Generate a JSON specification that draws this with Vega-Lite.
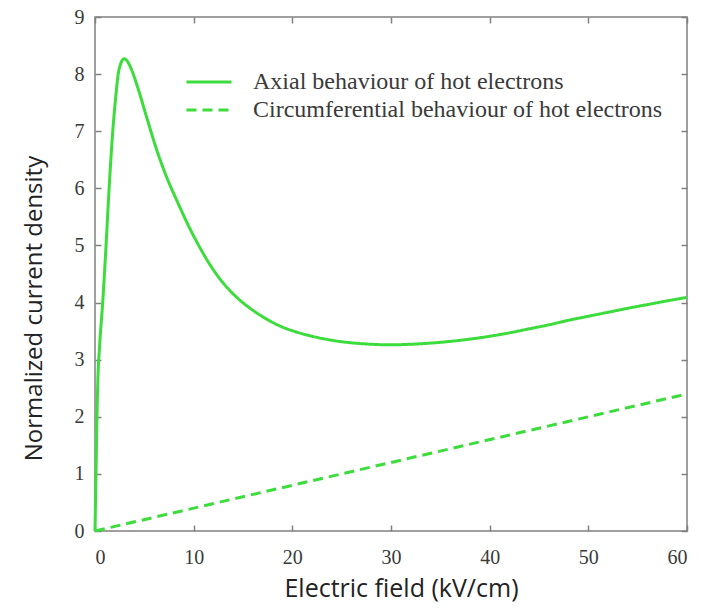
{
  "$schema": "https://vega.github.io/schema/vega-lite/v6.json",
  "autosize": "none",
  "width": 592,
  "height": 514,
  "padding": {"left": 95, "top": 17, "right": 20, "bottom": 77},
  "background": "white",
  "config": {
    "view": {"stroke": "#808080", "strokeWidth": 1.5},
    "axis": {
      "domain": false,
      "grid": false,
      "tickColor": "#808080",
      "tickSize": -6,
      "tickWidth": 1.5,
      "labelFont": "Liberation Serif",
      "labelFontSize": 20,
      "labelColor": "#3a3a3a",
      "titleFont": "Open Sans",
      "titleFontSize": 25,
      "titleFontWeight": "normal",
      "titleColor": "#222222"
    }
  },
  "data": {
    "values": [
      {"E": 0, "J": 0, "s": "Axial behaviour of hot electrons"},
      {"E": 0.1, "J": 1.0, "s": "Axial behaviour of hot electrons"},
      {"E": 0.2, "J": 2.0, "s": "Axial behaviour of hot electrons"},
      {"E": 0.3, "J": 2.7, "s": "Axial behaviour of hot electrons"},
      {"E": 0.45, "J": 3.2, "s": "Axial behaviour of hot electrons"},
      {"E": 0.78, "J": 4.0, "s": "Axial behaviour of hot electrons"},
      {"E": 1.12, "J": 5.0, "s": "Axial behaviour of hot electrons"},
      {"E": 1.43, "J": 6.0, "s": "Axial behaviour of hot electrons"},
      {"E": 1.8, "J": 7.0, "s": "Axial behaviour of hot electrons"},
      {"E": 2.1, "J": 7.6, "s": "Axial behaviour of hot electrons"},
      {"E": 2.35, "J": 8.0, "s": "Axial behaviour of hot electrons"},
      {"E": 2.6, "J": 8.18, "s": "Axial behaviour of hot electrons"},
      {"E": 2.95, "J": 8.27, "s": "Axial behaviour of hot electrons"},
      {"E": 3.3, "J": 8.22, "s": "Axial behaviour of hot electrons"},
      {"E": 3.7, "J": 8.08, "s": "Axial behaviour of hot electrons"},
      {"E": 4.25, "J": 7.81, "s": "Axial behaviour of hot electrons"},
      {"E": 5.26, "J": 7.23, "s": "Axial behaviour of hot electrons"},
      {"E": 6.28, "J": 6.66, "s": "Axial behaviour of hot electrons"},
      {"E": 7.3, "J": 6.18, "s": "Axial behaviour of hot electrons"},
      {"E": 8.31, "J": 5.78, "s": "Axial behaviour of hot electrons"},
      {"E": 9.66, "J": 5.28, "s": "Axial behaviour of hot electrons"},
      {"E": 10.7, "J": 4.94, "s": "Axial behaviour of hot electrons"},
      {"E": 11.7, "J": 4.65, "s": "Axial behaviour of hot electrons"},
      {"E": 13.0, "J": 4.34, "s": "Axial behaviour of hot electrons"},
      {"E": 14.5, "J": 4.07, "s": "Axial behaviour of hot electrons"},
      {"E": 16.0, "J": 3.865, "s": "Axial behaviour of hot electrons"},
      {"E": 17.5, "J": 3.7, "s": "Axial behaviour of hot electrons"},
      {"E": 19.0, "J": 3.57, "s": "Axial behaviour of hot electrons"},
      {"E": 20.5, "J": 3.48, "s": "Axial behaviour of hot electrons"},
      {"E": 22, "J": 3.41, "s": "Axial behaviour of hot electrons"},
      {"E": 24, "J": 3.34, "s": "Axial behaviour of hot electrons"},
      {"E": 26, "J": 3.295, "s": "Axial behaviour of hot electrons"},
      {"E": 28, "J": 3.27, "s": "Axial behaviour of hot electrons"},
      {"E": 30, "J": 3.26, "s": "Axial behaviour of hot electrons"},
      {"E": 32, "J": 3.27, "s": "Axial behaviour of hot electrons"},
      {"E": 34, "J": 3.29, "s": "Axial behaviour of hot electrons"},
      {"E": 36, "J": 3.32, "s": "Axial behaviour of hot electrons"},
      {"E": 38, "J": 3.36, "s": "Axial behaviour of hot electrons"},
      {"E": 40, "J": 3.41, "s": "Axial behaviour of hot electrons"},
      {"E": 42, "J": 3.47, "s": "Axial behaviour of hot electrons"},
      {"E": 44, "J": 3.54, "s": "Axial behaviour of hot electrons"},
      {"E": 46, "J": 3.61, "s": "Axial behaviour of hot electrons"},
      {"E": 48, "J": 3.69, "s": "Axial behaviour of hot electrons"},
      {"E": 50, "J": 3.76, "s": "Axial behaviour of hot electrons"},
      {"E": 52, "J": 3.83, "s": "Axial behaviour of hot electrons"},
      {"E": 54, "J": 3.9, "s": "Axial behaviour of hot electrons"},
      {"E": 56, "J": 3.965, "s": "Axial behaviour of hot electrons"},
      {"E": 58, "J": 4.03, "s": "Axial behaviour of hot electrons"},
      {"E": 60, "J": 4.09, "s": "Axial behaviour of hot electrons"},
      {"E": 0, "J": 0, "s": "Circumferential behaviour of hot electrons"},
      {"E": 60, "J": 2.4, "s": "Circumferential behaviour of hot electrons"}
    ]
  },
  "layer": [
    {
      "mark": {"type": "line", "interpolate": "monotone", "color": "#3cdc3c", "strokeWidth": 3},
      "encoding": {
        "x": {
          "field": "E", "type": "quantitative",
          "scale": {"domain": [0, 60], "nice": false},
          "axis": {"values": [0, 10, 20, 30, 40, 50, 60], "title": "Electric field (kV/cm)", "labelPadding": 22, "titlePadding": 9, "titleX": 306}
        },
        "y": {
          "field": "J", "type": "quantitative",
          "scale": {"domain": [0, 9], "nice": false},
          "axis": {"values": [0, 1, 2, 3, 4, 5, 6, 7, 8, 9], "title": "Normalized current density", "labelPadding": 17, "titlePadding": 28, "titleY": 291, "titleFontSize": 24}
        },
        "strokeDash": {
          "field": "s", "type": "nominal",
          "scale": {
            "domain": ["Axial behaviour of hot electrons", "Circumferential behaviour of hot electrons"],
            "range": [[1, 0], [10, 6]]
          },
          "legend": {
            "title": null,
            "orient": "none",
            "legendX": 102,
            "legendY": 53,
            "padding": 0,
            "symbolType": "M-2.5,0H2.5",
            "symbolSize": 324,
            "symbolStrokeWidth": 3,
            "symbolStrokeColor": "#3cdc3c",
            "symbolFillColor": "transparent",
            "labelFont": "Liberation Serif",
            "labelFontSize": 24,
            "labelColor": "#3a3a3a",
            "labelLimit": 0,
            "labelOffset": 32,
            "rowPadding": 4
          }
        }
      }
    },
    {
      "mark": {"type": "point", "opacity": 0},
      "encoding": {
        "x": {
          "field": "E", "type": "quantitative",
          "axis": {"orient": "top", "values": [0, 10, 20, 30, 40, 50, 60], "labels": false, "title": null}
        },
        "y": {
          "field": "J", "type": "quantitative",
          "axis": {"orient": "right", "values": [0, 1, 2, 3, 4, 5, 6, 7, 8, 9], "labels": false, "title": null}
        }
      }
    }
  ],
  "resolve": {"axis": {"x": "independent", "y": "independent"}}
}
